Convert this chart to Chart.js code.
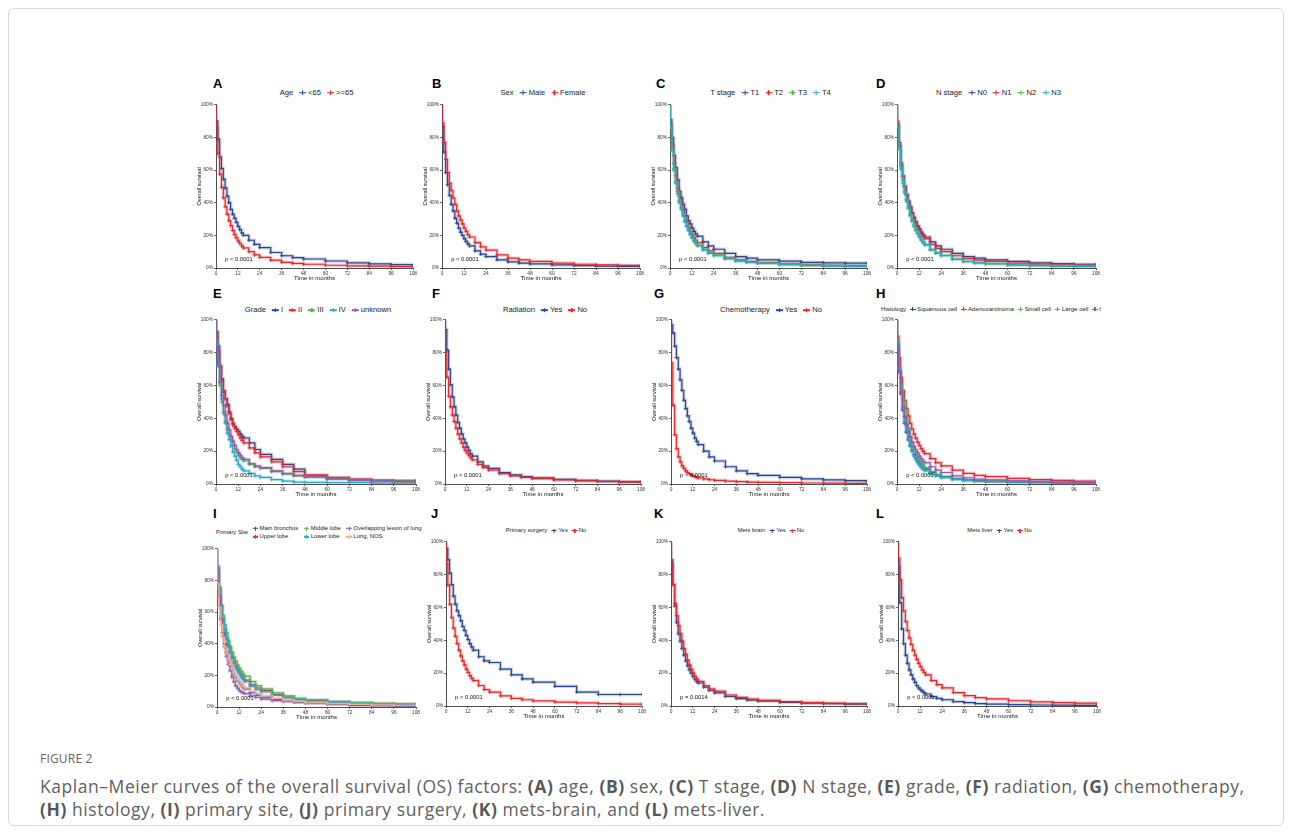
<!DOCTYPE html>
<html>
<head>
<meta charset="utf-8">
<script src="https://cdn.jsdelivr.net/npm/chart.js@4.4.1/dist/chart.umd.min.js"></script>
<style>
  body { margin: 0; background: #fff; font-family: "Liberation Sans", Arial, sans-serif; }
  #frame { position: absolute; left: 8px; top: 8px; width: 1274px; height: 816px; border: 1px solid #d8d8d8; border-radius: 6px; }
  .letter { position: absolute; font-weight: bold; font-size: 13px; line-height: 13px; color: #000; }
  .lg { position: absolute; white-space: nowrap; color: #1a1a1a; line-height: 1; transform: translate(-50%, -50%); }
  .lg .k { display: inline-block; position: relative; width: 7px; height: 6px; margin: 0 2px 0 5px; vertical-align: middle; }
  .lg .k::before { content: ''; position: absolute; left: 0; right: 0; top: 50%; height: 1.2px; margin-top: -0.6px; background: var(--c); }
  .lg .k::after { content: ''; position: absolute; left: 50%; top: 10%; bottom: 10%; width: 1.2px; margin-left: -0.6px; background: var(--c); }
  .lg.small .k { width: 5.5px; height: 5px; margin: 0 1.5px 0 3.5px; }
  canvas { position: absolute; }
  #cap-head { position: absolute; left: 40px; top: 750px; font-family: "Liberation Sans Narrow", "Open Sans", sans-serif; font-size: 12px; color: #666; letter-spacing: 0.2px; }
  #cap { position: absolute; left: 40px; top: 775px; width: 1240px; font-family: "Open Sans", sans-serif; font-size: 17.5px; letter-spacing: 0.55px; line-height: 23px; color: #606060; white-space: nowrap; }
  #cap b { color: #585858; }
</style>
</head>
<body>
<div id="frame"></div>
<div id="fig"></div>
<div id="cap-head">FIGURE 2</div>
<div id="cap">Kaplan&ndash;Meier curves of the overall survival (OS) factors: <b>(A)</b> age, <b>(B)</b> sex, <b>(C)</b> T stage, <b>(D)</b> N stage, <b>(E)</b> grade, <b>(F)</b> radiation, <b>(G)</b> chemotherapy,<br><b>(H)</b> histology, <b>(I)</b> primary site, <b>(J)</b> primary surgery, <b>(K)</b> mets-brain, and <b>(L)</b> mets-liver.</div>
<script>
// time grid (months) shared by all curves; each value is the survival level from that month on
const months = [0,1,2,3,4,5,6,7,8,9,10,11,12,13,14,15,18,21,24,30,36,42,48,60,72,84,96,108];
const monthTicks = [0,12,24,36,48,60,72,84,96,108];
const survTicks = [0,20,40,60,80,100];
const START = 100;

// A - age
const ageLt65 = [90,79,68,61,54.5,49,44,40,36,33,30.5,28,25.5,23.5,21.5,20, 17,14.5,12.5,9.5,7.5,6.3,5.5,4.3,3.2,2.5,2.1,1.5];
const ageGe65 = [86,70,57.5,49.5,43,37.5,33,29,26,23,20.5,18.5,16.5,15,13.5,12.3, 10,8,6.5,4.8,3.5,2.8,2.3,1.7,1.3,1.1,0.9,0.8];
// B - sex
const sexMale = [87,71,58.5,51,44.5,39,35,30.5,27.5,24.5,22,20,18,16.3,14.8,13.5, 10.5,8.5,7,5,3.8,3,2.5,1.9,1.5,1.2,1,0.8];
const sexFemale = [89,77,66.5,58.5,52,47.5,43,39,35,32,29.5,27,24.5,22.5,20.5,19, 15.5,13,11,8,6,5,4,3,2.3,1.9,1.6,1.3];
// C - T stage
const tT1 = [91,80,69,61.5,54,47,43,39,36,32,29,27,24.5,22.5,21,19.5, 16,13.5,11.5,9,7,6,5,4.2,3.5,3.2,3,3];
const tT2 = [88,75.5,64,56.5,49,44,40,35,31.5,28,25,22.5,20.5,18.5,17,15.5, 12.5,10.5,9,6.5,5,4,3.3,2.5,2,1.6,1.4,1.2];
const tT3 = [87,73,61,53,47,41,37,33,29,26,23.5,21,19,17,15.5,14, 11.5,9.5,8,6,4.5,3.6,3,2.2,1.7,1.4,1.2,1];
const tT4 = [86,72,60,52,45.5,40,36,32,28.5,25.5,23,20.5,18.5,16.5,15,13.5, 11,9,7.5,5.5,4.2,3.4,2.8,2,1.5,1.2,1,0.9];
// D - N stage
const nN0 = [88,75,63,56,50,45,41,37.5,34,31,28.5,26,24,22,20.5,19, 16,13.5,11.5,9,7,6,5,4,3.2,2.7,2.3,2];
const nN1 = [90,77,64.5,56.5,50,45,40.5,37,33,30,27.5,25,23,21,19.5,18, 14.5,12,10,7.5,5.8,4.8,4,3,2.4,2,1.8,1.8];
const nN2 = [87,73,60.5,52,46,41,36.5,32,28.5,25.5,23,21,19,17,15.5,14, 11,9,7.5,5.3,3.9,3.1,2.5,1.8,1.4,1.1,0.9,0.8];
const nN3 = [87,74,62,54,47,42,37.5,33,29.5,26.5,24,21.5,19.5,17.5,16,14.5, 11.5,9.3,7.7,5.5,4.1,3.2,2.6,1.9,1.5,1.2,1,0.9];
// E - grade
const gradeI = [93,84,72,64,56,52,48.5,44,40,37,35,33.5,32,30.5,29,28, 25,21,18,15,12,9,5,3.5,2.5,2,1.8,1.5];
const gradeII = [92,81,71,63,57,52,47.5,43,39,36,34,32,30,28,26.5,25, 22,19,16.5,13.5,10.5,7.5,5.5,4,3,2.3,2,2];
const gradeIII = [87,73,60,50,43,38,33.5,30,27,24,21.5,19.5,17.5,16,15,14, 12,10.5,9.5,7.5,6,5,4.2,3.2,2.5,2,1.7,1.5];
const gradeIV = [85,72,62,52,44,37,31,27,23,19.5,17,14.5,12,10.5,9,8, 6.5,5,4,2.7,1.8,1.2,1,0.8,0.8,0.5,0.5,0.5];
const gradeUnk = [84,73,62,54,48,42,37,33,29,26,23.5,21,19,17.5,16,15, 12.5,11,10,8,6.5,5.2,4.3,3,2.4,1.9,1.5,1.3];
// F - radiation
const radYes = [94,81.5,70,60.5,53,47,42,37.5,34,30.5,27.5,25,22.5,20.5,18.5,17, 13.5,11,9.5,7,5.5,4.5,3.8,2.8,2.2,1.7,1.4,1.2];
const radNo = [80.5,65,53.5,47,42,38,34,30.5,27.5,25,22.5,20.5,19,17.5,16,14.7, 12,10,8.5,6.3,5,4,3.3,2.5,1.9,1.5,1.2,1];
// G - chemotherapy
const chemoYes = [97,92,84,77,70,63.5,57,51,46,41.5,38,34,31,28,26,24, 20,16.5,14,10.5,8,6.3,5.2,4,3.1,2.5,2,1.5];
const chemoNo = [74,48,30,21.5,16.5,13.5,11,9.5,8,7,6.3,5.6,5,4.5,4,3.7, 3.1,2.6,2.2,1.7,1.4,1.2,1,0.8,0.6,0.5,0.4,0.3];
// H - histology
const histSquamous = [85,69,55,45,37,31.5,27,23.5,20.5,18,16,14,12.5,11,10,9, 7,5.5,4.5,3.2,2.5,2,1.7,1.3,1,0.8,0.7,0.6];
const histAdeno = [90,77,65,57,51,46,41.5,37,33.5,30.5,28,25.5,23.5,21.5,20,18.5, 15.5,13,11,8.5,6.5,5.3,4.5,3.4,2.7,2.2,1.8,1.5];
const histSmall = [88,71,61,52,46,40,34,29,25,22,19.5,17,15,13,11.5,10, 7.5,5.5,4.2,2.8,2,1.6,1.3,1,0.8,0.7,0.6,0.5];
const histLarge = [86,70,56,46,38,32,27,23,20,17,15,13,11.5,10,9,8, 6,4.8,3.8,2.8,2.2,1.8,1.5,1.1,0.9,0.7,0.6,0.5];
const histOther = [83,68,56,47,41,36,32,28.5,25.5,23,21,19,17,15.5,14,13, 10.5,8.5,7,5,3.8,3,2.5,1.9,1.5,1.2,1,0.9];
// I - primary site
const siteMain = [86,70,56,47,40,34.5,30,26.5,23.5,21,19,17,15.5,14,12.5,11.5, 9,7.5,6.2,4.8,3.8,3,2.5,1.8,1,0.8,0.6,0.5];
const siteUpper = [88,75,64,55.5,49,43.5,39,35,31.5,28.5,26,24,22,20,18.5,17, 14,12,10.5,8,6.3,5,4.2,3.2,2.5,2,1.7,1.4];
const siteMiddle = [89,76,64.5,58,52,47,42,38,34.5,31.5,29,26.5,24.5,22.5,21,19.5, 16,13.5,11.5,9,7,5.5,4.5,3.5,2.8,2.3,2,1.8];
const siteLower = [89,75,63.5,55,48.5,43,38,34,30.5,27.5,25,23,21,19,17.5,16, 13,11,9.5,7.3,5.7,4.5,3.8,2.9,2.3,1.8,1.5,1.2];
const siteOverlap = [87,70,55,45,38,32,27,23,19,16,13.5,12,10.5,9.5,9,8.5, 7,6,5,4,3.5,3,2.5,2,1.5,1.2,1,1];
const siteNos = [78,63,52,44,38,34,30,27,24,21.5,19.5,17.5,16,14.5,13,12, 10,8.5,7,5.5,4.3,3.5,2.8,2.1,1.6,1.3,1.1,1];
// J - primary surgery
const surgYes = [96,89,81,74,67,62,58,55,52,48.5,46,43,40.5,38,36,34, 30,27.5,26.5,22.5,19,16.5,14.5,12,8.5,7,7,7];
const surgNo = [87,73.5,62,54,47.5,42.5,38,34,30.5,27.5,25,22.5,20.5,18.5,17,15.5, 12.5,10,8.5,6.2,4.7,3.8,3.1,2.4,1.9,1.5,1.2,1];
// K - brain metastasis
const brainYes = [89,74,61,51,44,39.5,35,31,27.5,24.5,22,20,18,16.5,15,14, 11.5,9.5,8,5.8,4.5,3.6,3,2.2,1.7,1.4,1.2,1];
const brainNo = [87,74,62.5,55,49,44,39.5,35,31.5,28,25,22.5,20,18,16.5,15, 12.5,10.5,9,6.7,5.2,4.2,3.5,2.7,2.1,1.7,1.4,1.2];
// L - liver metastasis
const liverYes = [85,63,47,38,31,26,22,19,16.5,14.5,12.5,11,10,9,8,7.3, 5.7,4.6,3.8,2.7,2,1.5,1.2,0.8,0.6,0.5,0.4,0.4];
const liverNo = [90,77,66,58,51.5,46,41.5,37.5,34,31,28.5,26,24,22,20.5,19, 15.5,13,11,8.2,6.3,5.1,4.3,3.2,2.5,2,1.7,1.4];

const BLUE = '#27468f', RED = '#e8262b', GREEN = '#4cb648', CYAN = '#2aa6d0', PURPLE = '#9657b0', PEACH = '#f5b08e';

const panels = [
  { letter: 'A', title: 'Age', names: ['<65', '>=65'], series: [ageLt65, ageGe65], colors: [BLUE, RED], pval: 'p < 0.0001', rect: [216, 104, 413, 268], lgY: 92.5 },
  { letter: 'B', title: 'Sex', names: ['Male', 'Female'], series: [sexMale, sexFemale], colors: [BLUE, RED], pval: 'p < 0.0001', rect: [442, 104, 640, 268], lgY: 92.5 },
  { letter: 'C', title: 'T stage', names: ['T1', 'T2', 'T3', 'T4'], series: [tT1, tT2, tT3, tT4], colors: [BLUE, RED, GREEN, CYAN], pval: 'p < 0.0001', rect: [670, 104, 867, 268], lgY: 92.5 },
  { letter: 'D', title: 'N stage', names: ['N0', 'N1', 'N2', 'N3'], series: [nN0, nN1, nN2, nN3], colors: [BLUE, RED, GREEN, CYAN], pval: 'p < 0.0001', rect: [897, 104, 1096, 268], lgY: 92.5 },
  { letter: 'E', title: 'Grade', names: ['I', 'II', 'III', 'IV', 'unknown'], series: [gradeI, gradeII, gradeIII, gradeIV, gradeUnk], colors: [BLUE, RED, GREEN, CYAN, PURPLE], pval: 'p < 0.0001', rect: [216, 319, 416, 484], lgY: 310 },
  { letter: 'F', title: 'Radiation', names: ['Yes', 'No'], series: [radYes, radNo], colors: [BLUE, RED], pval: 'p < 0.0001', rect: [445, 319, 641, 484], lgY: 310 },
  { letter: 'G', title: 'Chemotherapy', names: ['Yes', 'No'], series: [chemoYes, chemoNo], colors: [BLUE, RED], pval: 'p < 0.0001', rect: [671, 319, 867, 484], lgY: 310 },
  { letter: 'H', title: 'Histology', names: ['Squamous cell', 'Adenocarcinoma', 'Small cell', 'Large cell', 'Other'], series: [histSquamous, histAdeno, histSmall, histLarge, histOther], colors: [BLUE, RED, GREEN, CYAN, PURPLE], pval: 'p < 0.0001', rect: [897, 319, 1096, 484], lgY: 309, lgLeft: 881, clip: 1101, lgSize: 6.1 },
  { letter: 'I', title: 'Primary Site', names: ['Main bronchus', 'Upper lobe', 'Middle lobe', 'Lower lobe', 'Overlapping lesion of lung', 'Lung, NOS'], series: [siteMain, siteUpper, siteMiddle, siteLower, siteOverlap, siteNos], colors: [BLUE, RED, GREEN, CYAN, PURPLE, PEACH], pval: 'p < 0.0001', rect: [217, 548, 416, 707], lgY: 533, grid: true },
  { letter: 'J', title: 'Primary surgery', names: ['Yes', 'No'], series: [surgYes, surgNo], colors: [BLUE, RED], pval: 'p < 0.0001', rect: [446, 541, 642, 706], lgY: 531 },
  { letter: 'K', title: 'Mets brain', names: ['Yes', 'No'], series: [brainYes, brainNo], colors: [BLUE, RED], pval: 'p = 0.0014', rect: [671, 541, 867, 706], lgY: 531 },
  { letter: 'L', title: 'Mets liver', names: ['Yes', 'No'], series: [liverYes, liverNo], colors: [BLUE, RED], pval: 'p < 0.0001', rect: [898, 541, 1097, 706], lgY: 531 }
];
const letterPos = [[213,77],[432,77],[656,77],[876,77],[213,287],[432,287],[654,287],[876,287],[213,507],[431,507],[654,507],[876,507]];

const AXW = 20, AXH = 14, PADT = 4, PADR = 9;
const AXIS = '#222';
const FONT = '"Liberation Sans", Arial, sans-serif';
const fig = document.getElementById('fig');

function hexA(hex, a) {
  const n = parseInt(hex.slice(1), 16);
  return 'rgba(' + (n >> 16) + ',' + ((n >> 8) & 255) + ',' + (n & 255) + ',' + a + ')';
}

function keyItem(name, color) {
  return '<span class="k" style="--c:' + color + '"></span>' + name;
}

function buildLegend(p, i) {
  const div = document.createElement('div');
  div.className = 'lg';
  const row3 = i >= 8 || p.lgLeft;
  if (row3) div.classList.add('small');
  div.style.fontSize = (p.lgSize || (row3 ? 5.9 : 7.6)) + 'px';
  if (p.grid) {
    div.style.transform = 'translateY(-50%)';
    div.style.left = '216px';
    div.style.top = p.lgY + 'px';
    div.style.display = 'flex';
    div.style.alignItems = 'center';
    let cols = '';
    for (let c = 0; c < 3; c++) {
      cols += '<span style="display:inline-flex;flex-direction:column;row-gap:2.5px;margin-right:2px">' +
        '<span>' + keyItem(p.names[c * 2], p.colors[c * 2]) + '</span>' +
        '<span>' + keyItem(p.names[c * 2 + 1], p.colors[c * 2 + 1]) + '</span></span>';
    }
    div.innerHTML = '<span style="margin-right:1px">' + p.title + '</span>' + cols;
  } else {
    let html = p.title;
    p.names.forEach((n, k) => { html += '<span style="margin-left:' + (row3 ? 0.5 : 1) + 'px"></span>' + keyItem(n, p.colors[k]); });
    div.innerHTML = html;
    if (p.lgLeft) {
      div.style.transform = 'translateY(-50%)';
      div.style.left = p.lgLeft + 'px';
      div.style.width = (p.clip - p.lgLeft) + 'px';
      div.style.overflow = 'hidden';
    } else {
      div.style.left = ((p.rect[0] + p.rect[2]) / 2 + 2) + 'px';
    }
    div.style.top = p.lgY + 'px';
  }
  fig.appendChild(div);
}

const pvalPlugin = {
  id: 'pval',
  afterDatasetsDraw(chart, args, opts) {
    const ctx = chart.ctx;
    ctx.save();
    ctx.font = '5.8px ' + FONT;
    ctx.fillStyle = '#111';
    ctx.textBaseline = 'middle';
    ctx.fillText(opts.text, chart.scales.x.getPixelForValue(5), chart.scales.y.getPixelForValue(5.5));
    ctx.restore();
  }
};

panels.forEach((p, i) => {
  const L = document.createElement('div');
  L.className = 'letter';
  L.textContent = p.letter;
  L.style.left = letterPos[i][0] + 'px';
  L.style.top = letterPos[i][1] + 'px';
  fig.appendChild(L);
  buildLegend(p, i);

  const [l, t, r, b] = p.rect;
  const cv = document.createElement('canvas');
  cv.width = r - l + AXW + PADR;
  cv.height = b - t + PADT + AXH;
  cv.style.left = (l - AXW) + 'px';
  cv.style.top = (t - PADT) + 'px';
  fig.appendChild(cv);

  const datasets = [];
  p.series.forEach((vals, k) => {
    const pts = [{ x: 0, y: START }].concat(months.map((m, j) => ({ x: m, y: vals[j] })));
    datasets.push({
      data: pts, stepped: 'before', borderColor: p.colors[k], borderWidth: 1.2,
      pointStyle: 'cross', pointRadius: c => c.dataIndex === 0 ? 0 : 1.8, pointBorderWidth: 0.8,
      pointBorderColor: p.colors[k], fill: false, order: 2 * (p.series.length - k)
    });
    datasets.push({
      data: pts, stepped: 'before', borderColor: hexA(p.colors[k], 0.22), borderWidth: 3.5,
      pointRadius: 0, fill: false, order: 2 * (p.series.length - k) + 1
    });
  });

  new Chart(cv, {
    type: 'line',
    data: { datasets },
    plugins: [pvalPlugin],
    options: {
      responsive: false, animation: false, devicePixelRatio: 1,
      layout: { padding: { top: PADT, right: PADR, left: 0, bottom: 0 } },
      plugins: { legend: { display: false }, tooltip: { enabled: false }, pval: { text: p.pval } },
      scales: {
        x: {
          type: 'linear', min: 0, max: 108,
          afterBuildTicks: s => { s.ticks = monthTicks.map(v => ({ value: v })); },
          afterFit: s => { s.height = AXH; s.paddingLeft = 0; s.paddingRight = 0; },
          grid: { drawOnChartArea: false, drawTicks: true, tickLength: 2, color: AXIS, lineWidth: 0.7 },
          border: { color: AXIS, width: 0.8 },
          ticks: { font: { size: 4.8, family: FONT }, color: '#333', padding: 1, maxRotation: 0, autoSkip: false },
          title: { display: true, text: 'Time in months', font: { size: 6, family: FONT }, color: '#111', padding: { top: 0, bottom: 0 } }
        },
        y: {
          type: 'linear', min: 0, max: 100,
          afterBuildTicks: s => { s.ticks = survTicks.map(v => ({ value: v })); },
          afterFit: s => { s.width = AXW; s.paddingTop = 0; s.paddingBottom = 0; },
          grid: { drawOnChartArea: false, drawTicks: true, tickLength: 2, color: AXIS, lineWidth: 0.7 },
          border: { color: AXIS, width: 0.8 },
          ticks: { font: { size: 4.8, family: FONT }, color: '#333', padding: 1, callback: v => v + '%' },
          title: { display: true, text: 'Overall survival', font: { size: 5.6, family: FONT }, color: '#111', padding: { top: 0, bottom: 0 } }
        }
      }
    }
  });
});
</script>
</body>
</html>
